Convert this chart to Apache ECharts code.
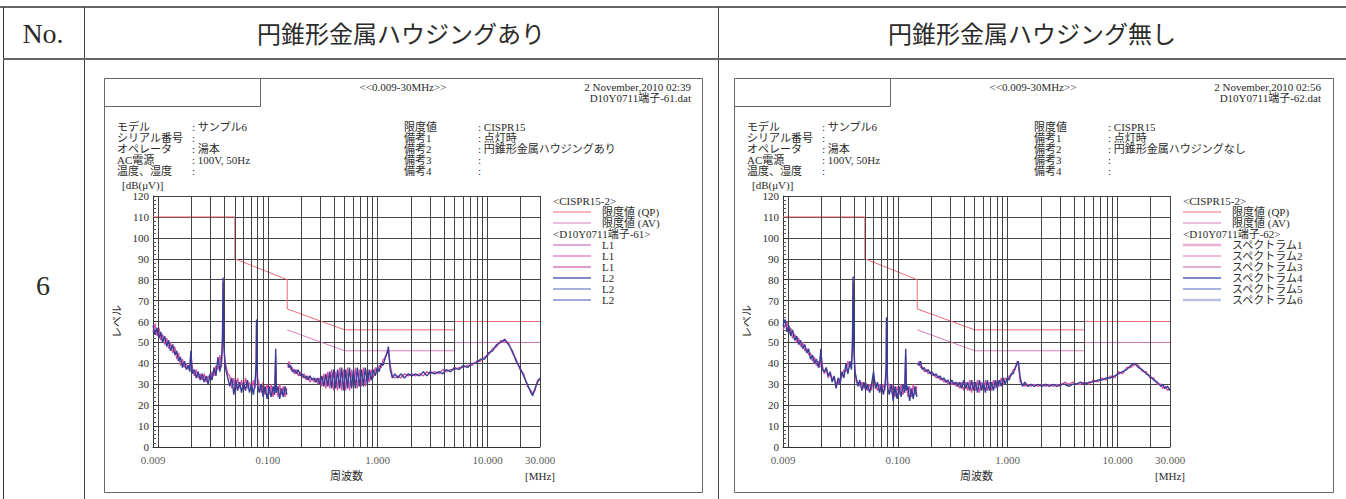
<!DOCTYPE html>
<html>
<head>
<meta charset="utf-8">
<script src="https://cdn.jsdelivr.net/npm/echarts@6.0.0/dist/echarts.min.js"></script>
<style>
html, body { margin: 0; padding: 0; background: #fff; }
#main { width: 1346px; height: 499px; }
</style>
</head>
<body>
<div id="main"></div>
<script>
// 測定周波数 [MHz]  (0.15 で A帯/B帯 の切れ目)
var freq = [
  0.009, 0.0094, 0.0098, 0.0102, 0.0106, 0.011, 0.0115, 0.012, 0.0125, 0.013,
  0.0136, 0.0142, 0.0148, 0.0154, 0.016, 0.0167, 0.0174, 0.0181, 0.0189, 0.0195,
  0.0199, 0.0205, 0.0214, 0.0223, 0.0232, 0.0242, 0.0252, 0.0263, 0.0274, 0.0286,
  0.0298, 0.031, 0.0323, 0.0337, 0.0351, 0.0366, 0.0378, 0.0386, 0.0391, 0.0397,
  0.0406, 0.0418, 0.0432, 0.045, 0.047, 0.049, 0.051, 0.053, 0.0553, 0.0576,
  0.06, 0.0626, 0.0652, 0.068, 0.0708, 0.0738, 0.0765, 0.0782, 0.0788, 0.0805,
  0.0834, 0.087, 0.0906, 0.0944, 0.0984, 0.1026, 0.107, 0.1115, 0.1155, 0.1178,
  0.1195, 0.1235, 0.128, 0.133, 0.138, 0.1435, 0.1488, 0.15, 0.152, 0.156,
  0.161, 0.167, 0.174, 0.181, 0.189, 0.197, 0.205, 0.214, 0.223, 0.232,
  0.242, 0.252, 0.263, 0.274, 0.286, 0.298, 0.31, 0.323, 0.337, 0.351,
  0.366, 0.381, 0.397, 0.414, 0.431, 0.45, 0.469, 0.489, 0.51, 0.531,
  0.553, 0.577, 0.601, 0.627, 0.653, 0.681, 0.71, 0.74, 0.771, 0.804,
  0.838, 0.873, 0.91, 0.949, 0.989, 1.03, 1.075, 1.12, 1.17, 1.22,
  1.25, 1.3, 1.36, 1.43, 1.52, 1.62, 1.75, 1.9, 2.05, 2.2,
  2.4, 2.6, 2.8, 3.0, 3.3, 3.6, 3.9, 4.2, 4.6, 5.0,
  5.5, 6.0, 6.6, 7.2, 7.9, 8.6, 9.4, 10.2, 11.1, 12.1,
  13.2, 14.3, 15.5, 16.8, 18.2, 19.7, 21.3, 23.0, 24.8, 25.7,
  27.0, 28.5, 30.0
];

// ハウジングあり (端子-61) L1 / L2 [dBμV]
var withL1 = [
  55, 59, 53, 57, 51, 54, 49, 52, 47, 50,
  45, 48, 42, 45, 39, 42, 38, 40, 37, 40,
  45, 38, 34, 37, 33, 35, 32, 35, 31, 34,
  32, 36, 34, 39, 37, 44, 38, 50, 79, 48,
  42, 38, 35, 34, 28, 33, 27, 33, 28, 32,
  27, 33, 28, 31, 27, 32, 28, 38, 58, 33,
  30, 26, 31, 25, 30, 25, 30, 24, 30, 44,
  29, 24, 30, 25, 29, 24, 28, null, 38, 41,
  37, 38, 35, 37, 34, 36, 33, 35, 32, 34,
  31, 33, 31, 33, 30, 33, 29, 35, 28, 36,
  28, 37, 27, 36, 27, 38, 27, 37, 27, 38,
  27, 37, 28, 38, 28, 37, 29, 38, 29, 37,
  31, 37, 33, 38, 35, 39, 38, 42, 42, 46,
  46, 39, 34, 33, 34, 33, 35, 34, 35, 34,
  35, 34, 36, 35, 36, 35, 37, 36, 37, 37,
  38, 38, 39, 39, 41, 41, 43, 44, 47, 48,
  51, 50, 50, 45, 42, 37, 35, 29, 27, 25.5,
  27, 32, 32
];
var withL2 = [
  58, 54, 57, 52, 55, 50, 53, 48, 51, 46,
  49, 44, 46, 41, 43, 38, 41, 37, 39, 36,
  46, 35, 37, 33, 36, 32, 35, 31, 34, 30,
  35, 32, 38, 34, 43, 36, 41, 52, 81, 50,
  40, 36, 33, 29, 33, 25, 32, 27, 31, 26,
  31, 27, 32, 26, 30, 25, 31, 40, 61, 30,
  26, 30, 24, 29, 23, 29, 24, 29, 25, 47,
  26, 29, 23, 28, 24, 29, 25, null, 40, 38,
  39, 36, 37, 35, 37, 34, 35, 33, 34, 32,
  34, 32, 33, 31, 33, 30, 34, 29, 35, 29,
  36, 28, 37, 28, 37, 28, 38, 27, 37, 28,
  38, 28, 37, 28, 38, 29, 37, 29, 38, 30,
  37, 32, 37, 34, 38, 36, 40, 39, 43, 45,
  48, 37, 33, 35, 33, 35, 33, 35, 34, 35,
  34, 36, 34, 36, 35, 36, 35, 37, 36, 38,
  37, 39, 38, 40, 40, 42, 42, 45, 46, 49,
  50, 51.5, 49, 46, 41, 38, 34, 30, 26, 24.5,
  28, 31, 33
];

// ハウジング無し (端子-62)
var noL1 = [
  56, 58, 60, 54, 57, 52, 54, 50, 52, 48,
  50, 46, 47, 44, 45, 41, 43, 39, 41, 38,
  45, 39, 35, 37, 33, 35, 33, 32, 31, 30,
  33, 34, 37, 36, 41, 38, 40, 48, 79, 50,
  38, 31, 31, 29, 31, 28, 31, 27, 30, 27,
  33, 30, 27, 30, 26, 30, 27, 36, 60, 31,
  29, 26, 30, 24, 29, 25, 30, 25, 29, 44,
  30, 24, 29, 24, 30, 25, 29, null, 39, 41,
  38, 38, 36, 37, 35, 36, 34, 35, 33, 34,
  32, 33, 31, 32, 30, 31, 30, 31, 29, 31,
  28, 31, 27, 31, 27, 32, 26, 31, 27, 32,
  26, 31, 27, 32, 27, 31, 27, 32, 28, 32,
  29, 33, 30, 33, 32, 34, 34, 37, 37, 41,
  39, 31, 30, 29, 30, 29, 30, 29, 30, 29,
  30, 29, 30, 29, 31, 30, 31, 30, 30, 31,
  30, 32, 31, 33, 32, 34, 33, 36, 35, 38,
  38, 39.5, 39, 36, 36, 33, 33, 30, 30, 28,
  29, 27, 28
];
var noL2 = [
  58, 61, 55, 58, 53, 56, 51, 53, 49, 51,
  47, 49, 45, 47, 42, 44, 40, 42, 38, 41,
  47, 37, 36, 38, 34, 36, 31, 34, 28, 33,
  30, 36, 33, 40, 35, 41, 37, 50, 81.5, 48,
  36, 33, 29, 32, 27, 31, 27, 30, 26, 30,
  36, 28, 31, 26, 30, 25, 30, 38, 62, 29,
  25, 30, 22, 29, 23, 29, 24, 30, 26, 47,
  27, 29, 22, 28, 23, 29, 24, null, 40, 39,
  41, 37, 38, 36, 37, 35, 36, 34, 35, 33,
  34, 32, 33, 31, 32, 30, 32, 30, 31, 29,
  31, 28, 32, 28, 31, 27, 32, 27, 31, 26,
  32, 27, 31, 26, 32, 27, 31, 27, 32, 28,
  32, 29, 33, 30, 33, 32, 35, 35, 38, 40,
  41, 33, 29, 31, 29, 30, 29, 30, 29, 30,
  29, 30, 29, 30, 30, 29, 30, 30, 31, 30,
  31, 31, 32, 32, 33, 33, 34, 35, 36, 37,
  39, 40, 38, 37, 35, 34, 32, 31, 29, 30,
  28, 29, 27
];

// CISPR15 限度値
var qpFreq = [0.009, 0.05, 0.05, 0.15, 0.15, 0.5, 5, 5, 30];
var qpLevel = [110, 110, 90, 80, 66, 56, 56, 60, 60];
var avFreq = [0.15, 0.5, 5, 5, 30];
var avLevel = [56, 46, 46, 50, 50];

// 縦のグリッド線 / 軸ラベル
var gridFreqs = [0.01, 0.02, 0.03, 0.04, 0.05, 0.06, 0.07, 0.08, 0.09,
  0.1, 0.2, 0.3, 0.4, 0.5, 0.6, 0.7, 0.8, 0.9,
  1, 2, 3, 4, 5, 6, 7, 8, 9, 10, 20, 30];
var xTickValues = [0.009, 0.1, 1, 10, 30];

var infoLabels = ['モデル', 'シリアル番号', 'オペレータ', 'AC電源', '温度、湿度'];
var infoValues = [': サンプル6', ':', ': 湯本', ': 100V, 50Hz', ':'];
var remarkLabels = ['限度値', '備考1', '備考2', '備考3', '備考4'];

var SERIF = "'Liberation Serif', 'Noto Sans CJK JP', serif";
var GOTHIC = "'Noto Sans CJK JP', sans-serif";
var INK = '#2b2b2b';

var panels = [
  {
    ox: 0, w: 598,
    date: '2 November,2010 02:39', file: 'D10Y0711端子-61.dat',
    remarks: [': CISPR15', ': 点灯時', ': 円錐形金属ハウジングあり', ':', ':'],
    head: '<D10Y0711端子-61>',
    names: ['L1', 'L1', 'L1', 'L2', 'L2', 'L2'],
    colors: ['#d98bc6', '#e48fc8', '#d878b4', '#5565b5', '#a9b1db', '#7f8ed0'],
    widths: [1.5, 1.5, 1.5, 1.5, 2, 1.5],
    l1: withL1, l2: withL2
  },
  {
    ox: 630, w: 599,
    date: '2 November,2010 02:56', file: 'D10Y0711端子-62.dat',
    remarks: [': CISPR15', ': 点灯時', ': 円錐形金属ハウジングなし', ':', ':'],
    head: '<D10Y0711端子-62>',
    names: ['スペクトラム1', 'スペクトラム2', 'スペクトラム3', 'スペクトラム4', 'スペクトラム5', 'スペクトラム6'],
    colors: ['#e9b0d6', '#f0b8da', '#e090c0', '#5060b8', '#8a98d4', '#b9c1e4'],
    widths: [2.5, 2, 1.5, 1.5, 1.5, 2.5],
    l1: noL1, l2: noL2
  }
];

function pairs(f, v) {
  var out = [];
  for (var i = 0; i < f.length; i++) {
    out.push([f[i], v[i] == null ? '-' : v[i]]);
  }
  return out;
}

function txt(x, y, s, size, align, family) {
  return {
    type: 'text', x: x, y: y, silent: true,
    style: {
      text: s, fontSize: size, fontFamily: family || SERIF, fill: INK,
      textAlign: align || 'left', textVerticalAlign: 'middle'
    }
  };
}

function seg(x1, y1, x2, y2, color, w) {
  return {
    type: 'line', silent: true,
    shape: { x1: x1, y1: y1, x2: x2, y2: y2 },
    style: { stroke: color, lineWidth: w }
  };
}

var graphics = [];
// 表の枠
graphics.push(seg(0, 7, 1346, 7, '#333', 1.5));
graphics.push(seg(3.5, 7, 3.5, 499, '#333', 1));
graphics.push(seg(84.5, 7, 84.5, 499, '#444', 1));
graphics.push(seg(718.5, 7, 718.5, 499, '#444', 1));
graphics.push(seg(3, 59, 1346, 59, '#666', 2));
graphics.push(txt(43, 33, 'No.', 28, 'center'));
graphics.push(txt(401, 32, '円錐形金属ハウジングあり', 24, 'center', GOTHIC));
graphics.push(txt(1032, 32, '円錐形金属ハウジング無し', 24, 'center', GOTHIC));
graphics.push(txt(43, 285, '6', 28, 'center'));

panels.forEach(function (p) {
  var ox = p.ox;
  graphics.push({
    type: 'rect', silent: true,
    shape: { x: 104.5 + ox, y: 78.5, width: p.w, height: 414 },
    style: { fill: 'none', stroke: '#666', lineWidth: 1 }
  });
  graphics.push(seg(104.5 + ox, 106.5, 260.5 + ox, 106.5, '#666', 1));
  graphics.push(seg(260.5 + ox, 78.5, 260.5 + ox, 106.5, '#666', 1));
  graphics.push(txt(403 + ox, 87, '<<0.009-30MHz>>', 11, 'center'));
  graphics.push(txt(691 + ox, 87, p.date, 11, 'right'));
  graphics.push(txt(691 + ox, 98, p.file, 11, 'right'));
  for (var i = 0; i < infoLabels.length; i++) {
    var y = 126.5 + i * 11;
    graphics.push(txt(117 + ox, y, infoLabels[i], 11));
    graphics.push(txt(192 + ox, y, infoValues[i], 11));
    graphics.push(txt(404 + ox, y, remarkLabels[i], 11));
    graphics.push(txt(478 + ox, y, p.remarks[i], 11));
  }
  graphics.push(txt(122 + ox, 185, '[dB(μV)]', 11));
  graphics.push(txt(540 + ox, 476, '[MHz]', 11, 'center'));

  // 凡例
  graphics.push(txt(553 + ox, 201, '<CISPR15-2>', 11));
  graphics.push(seg(553 + ox, 212, 591 + ox, 212, '#f0687a', 1));
  graphics.push(txt(602 + ox, 212, '限度値 (QP)', 11));
  graphics.push(seg(553 + ox, 223, 591 + ox, 223, '#d77fbd', 1));
  graphics.push(txt(602 + ox, 223, '限度値 (AV)', 11));
  graphics.push(txt(553 + ox, 234, p.head, 11));
  for (var j = 0; j < p.names.length; j++) {
    var ly = 245 + j * 11;
    graphics.push(seg(553 + ox, ly, 591 + ox, ly, p.colors[j], p.widths[j]));
    graphics.push(txt(602 + ox, ly, p.names[j], 11));
  }
});

var grids = [], xAxes = [], yAxes = [], series = [];
var axisFont = { fontFamily: SERIF, fontSize: 11, color: INK };

panels.forEach(function (p, k) {
  grids.push({ left: 153 + p.ox, top: 196, width: 387, height: 251, containLabel: false, outerBoundsMode: 'none' });
  xAxes.push({
    gridIndex: k, type: 'log', logBase: 10, min: 0.009, max: 30,
    axisLine: { show: true, onZero: false, lineStyle: { color: '#333', width: 1 } },
    axisTick: { show: false }, axisLabel: { show: false }, splitLine: { show: false },
    name: '周波数', nameLocation: 'middle', nameGap: 23, nameTextStyle: axisFont
  });
  yAxes.push({
    gridIndex: k, type: 'value', min: 0, max: 120, interval: 10,
    axisLine: { show: true, lineStyle: { color: '#333', width: 1 } },
    axisTick: { show: true, inside: true, length: 5, lineStyle: { color: '#333' } },
    minorTick: { show: true, splitNumber: 5, length: 3, lineStyle: { color: '#555' } },
    splitLine: { show: true, lineStyle: { color: '#444', width: 1 } },
    axisLabel: { fontFamily: SERIF, fontSize: 11, color: INK, margin: 4 },
    name: 'レベル', nameLocation: 'middle', nameGap: 31, nameRotate: 90, nameTextStyle: axisFont
  });

  series.push({
    type: 'line', xAxisIndex: k, yAxisIndex: k, data: [], silent: true, z: 1,
    markLine: {
      silent: true, symbol: ['none', 'none'], animation: false,
      label: { show: false },
      lineStyle: { color: '#444', width: 1, type: 'solid' },
      emphasis: { disabled: true },
      data: gridFreqs.map(function (f) { return { xAxis: f }; })
    }
  });
  series.push({
    name: '限度値 (QP)', type: 'line', xAxisIndex: k, yAxisIndex: k, z: 3,
    data: pairs(qpFreq, qpLevel), showSymbol: false, silent: true,
    lineStyle: { color: '#f0687a', width: 1 }
  });
  series.push({
    name: '限度値 (AV)', type: 'line', xAxisIndex: k, yAxisIndex: k, z: 3,
    data: pairs(avFreq, avLevel), showSymbol: false, silent: true,
    lineStyle: { color: '#d77fbd', width: 1 }
  });
  series.push({
    name: p.names[0], type: 'line', xAxisIndex: k, yAxisIndex: k, z: 4,
    data: pairs(freq, p.l1), showSymbol: false, silent: true, connectNulls: false,
    lineStyle: { color: '#dd4f9c', width: 1.3 }
  });
  series.push({
    name: p.names[3], type: 'line', xAxisIndex: k, yAxisIndex: k, z: 5,
    data: pairs(freq, p.l2), showSymbol: false, silent: true, connectNulls: false,
    lineStyle: { color: '#383d9a', width: 1.4 }
  });
  // x軸の目盛ラベル
  series.push({
    type: 'scatter', xAxisIndex: k, yAxisIndex: k, z: 6, silent: true,
    symbolSize: 0, clip: false,
    data: xTickValues.map(function (v) { return [v, 0]; }),
    label: {
      show: true, position: 'bottom', distance: 7,
      fontFamily: SERIF, fontSize: 11, color: INK,
      formatter: function (d) { return d.value[0].toFixed(3); }
    }
  });
});

var chart = echarts.init(document.getElementById('main'), null, { renderer: 'svg' });
chart.setOption({
  animation: false,
  backgroundColor: '#fff',
  grid: grids,
  xAxis: xAxes,
  yAxis: yAxes,
  series: series,
  graphic: graphics
});
</script>
</body>
</html>
